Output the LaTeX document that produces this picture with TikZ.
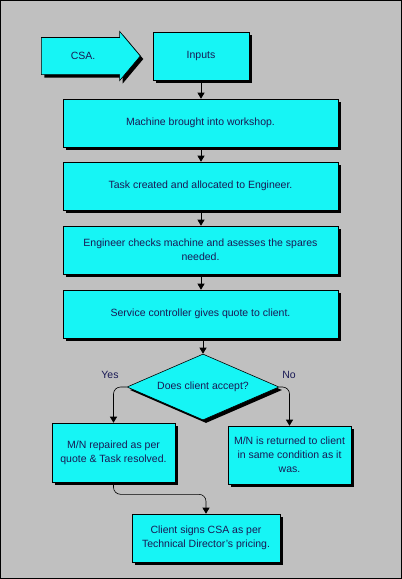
\documentclass[tikz,border=0pt]{standalone}
\usepackage{fontspec}
\setmainfont{Liberation Sans}
\usetikzlibrary{shapes.geometric}
\usetikzlibrary{shapes.arrows}
\usetikzlibrary{shadows}
\usetikzlibrary{arrows.meta}
\definecolor{boxcyan}{RGB}{22,245,245}
\definecolor{pagegrey}{RGB}{192,192,192}
\definecolor{inkblue}{RGB}{25,25,85}
\tikzset{
  shade box/.style={drop shadow={shadow xshift=3pt, shadow yshift=-3pt, fill=black, opacity=1}},
  box/.style={draw, line width=0.6pt, fill=boxcyan, shade box, inner sep=0pt,
    text=inkblue, align=center, font=\fontsize{10.5}{14}\selectfont},
  decision/.style={box, diamond, aspect=2.3},
  conn/.style={line width=0.6pt, -{Triangle[length=6pt,width=7pt]}},
  answer/.style={text=inkblue, font=\fontsize{10.5}{12}\selectfont}
}
\begin{document}
\begin{tikzpicture}[x=1pt, y=-1pt]
        \useasboundingbox (0,0) rectangle (402,579);
        \draw[fill=pagegrey, line width=1pt] (0.5,0.5) rectangle (401.5,578.5);

        \node[box, single arrow, minimum height=99pt, minimum width=48pt,
          inner ysep=14.5pt, text height=7.5pt, text depth=0pt,
          single arrow head extend=6pt, single arrow tip angle=100,
          anchor=tail] (csa) at (41,56) {CSA.};
        \node[box, minimum width=96pt, minimum height=48pt] (inputs) at (201,56) {Inputs};
        \node[box, minimum width=275pt, minimum height=48pt] (workshop) at (200.5,123) {Machine brought into workshop.};
        \node[box, minimum width=275pt, minimum height=48pt] (task) at (200.5,186) {Task created and allocated to Engineer.};
        \node[box, minimum width=275pt, minimum height=48pt] (checks) at (200.5,250) {Engineer checks machine and asesses the spares\\needed.};
        \node[box, minimum width=275pt, minimum height=48pt] (quote) at (200.5,314) {Service controller gives quote to client.};
        \node[decision, minimum width=152pt, minimum height=66pt] (accept) at (203,387) {Does client accept?};
        \node[box, minimum width=123pt, minimum height=59pt] (repair) at (113.5,452.5) {M/N repaired as per\\quote \& Task resolved.};
        \node[box, minimum width=123pt, minimum height=58pt] (returned) at (289.5,455) {M/N is returned to client\\in same condition as it\\was.};
        \node[box, minimum width=148pt, minimum height=48pt] (signs) at (206,538) {Client signs CSA as per\\Technical Director's pricing.};

        \node[answer] (yes) at (110,375) {Yes};
        \node[answer] (no) at (289,375) {No};

        \draw[conn] (inputs.south) -- (inputs.south |- workshop.north);
        \draw[conn] (inputs.south |- workshop.south) -- (inputs.south |- task.north);
        \draw[conn] (inputs.south |- task.south) -- (inputs.south |- checks.north);
        \draw[conn] (inputs.south |- checks.south) -- (inputs.south |- quote.north);
        \draw[conn] (accept.north |- quote.south) -- (accept.north);
        \draw[conn, rounded corners=7pt] (accept.west) -| (repair.north);
        \draw[conn, rounded corners=7pt] (accept.east) -| (returned.north);
        \draw[conn, rounded corners=7pt] (repair.south) -- ++(0,12) -| (signs.north);
\end{tikzpicture}
\end{document}
